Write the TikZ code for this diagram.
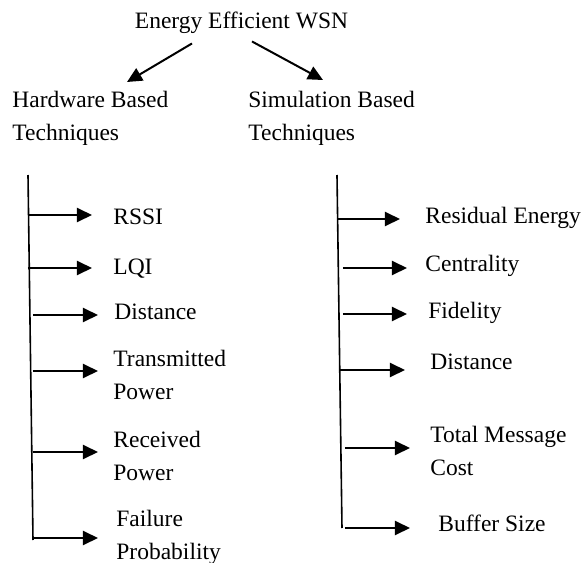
\documentclass[tikz,border=0pt]{standalone}
\usepackage{fontspec}
\setmainfont{Liberation Serif}
\usetikzlibrary{arrows.meta,positioning}

\tikzset{
  lbl/.style={font=\fontsize{11.75}{16.5}\selectfont, inner sep=0pt, align=left},
  leaf/.style={lbl, anchor=west},
  arr/.style={line width=1pt, -{Triangle[length=7.5pt,width=7pt]}},
  spine/.style={line width=0.8pt},
}

\begin{document}
\begin{tikzpicture}[x=0.5pt,y=-0.5pt]
\useasboundingbox (0,0) rectangle (586,563);

%Declare nodes.
\node[lbl, anchor=base] (wsn) at (241.5,28) {Energy Efficient WSN};
\node[lbl, anchor=base west] (hw) at (12,140) {Hardware Based\\Techniques};
\node[lbl, anchor=base west] (sim) at (248,140) {Simulation Based\\Techniques};

\node[leaf] (rssi) at (113,217) {RSSI};
\node[leaf] (lqi) at (113,269) {LQI};
\node[leaf] (hdist) at (114,312) {Distance};
\node[leaf] (tpow) at (113,375) {Transmitted\\Power};
\node[leaf] (rpow) at (113,456) {Received\\Power};
\node[leaf] (fail) at (116,537) {Failure\\Probability};

\node[leaf] (resid) at (425,218) {Residual Energy};
\node[leaf] (cent) at (425,266) {Centrality};
\node[leaf] (fid) at (428,313) {Fidelity};
\node[leaf] (sdist) at (430,362) {Distance};
\node[leaf] (cost) at (430,451) {Total Message\\Cost};
\node[leaf] (buf) at (438,523) {Buffer Size};

%Spine points.
\coordinate (hwtip) at (127,82);
\coordinate (simtip) at (323,80);
\coordinate (hwtop) at (28,175);
\coordinate (hwbot) at (33,540);
\coordinate (simtop) at (337,175);
\coordinate (simbot) at (342,528);
\coordinate (h1) at (28,215);
\coordinate (h2) at (28,268);
\coordinate (h3) at (33,315);
\coordinate (h4) at (33,371);
\coordinate (h5) at (33,452);
\coordinate (h6) at (33,538);
\coordinate (s1) at (337,219);
\coordinate (s2) at (343,268);
\coordinate (s3) at (343,314);
\coordinate (s4) at (340,370);
\coordinate (s5) at (345,448);
\coordinate (s6) at (345,528);

%Setup edges.
\draw[arr] ([xshift=-24.75pt,yshift=-5pt]wsn.south) -- (hwtip);
\draw[arr] ([xshift=5.25pt,yshift=-4pt]wsn.south) -- (simtip);

\draw[spine] (hwtop) -- (hwbot);
\draw[spine] (simtop) -- (simbot);

\draw[arr, shorten >=10.5pt] (h1) -- (h1 -| rssi.west);
\draw[arr, shorten >=10.5pt] (h2) -- (h2 -| lqi.west);
\draw[arr, shorten >=8pt] (h3) -- (h3 -| hdist.west);
\draw[arr, shorten >=7.5pt] (h4) -- (h4 -| tpow.west);
\draw[arr, shorten >=7.5pt] (h5) -- (h5 -| rpow.west);
\draw[arr, shorten >=9pt] (h6) -- (h6 -| fail.west);

\draw[arr, shorten >=12.5pt] (s1) -- (s1 -| resid.west);
\draw[arr, shorten >=9pt] (s2) -- (s2 -| cent.west);
\draw[arr, shorten >=10.5pt] (s3) -- (s3 -| fid.west);
\draw[arr, shorten >=12.5pt] (s4) -- (s4 -| sdist.west);
\draw[arr, shorten >=10pt] (s5) -- (s5 -| cost.west);
\draw[arr, shorten >=14pt] (s6) -- (s6 -| buf.west);

\end{tikzpicture}
\end{document}
